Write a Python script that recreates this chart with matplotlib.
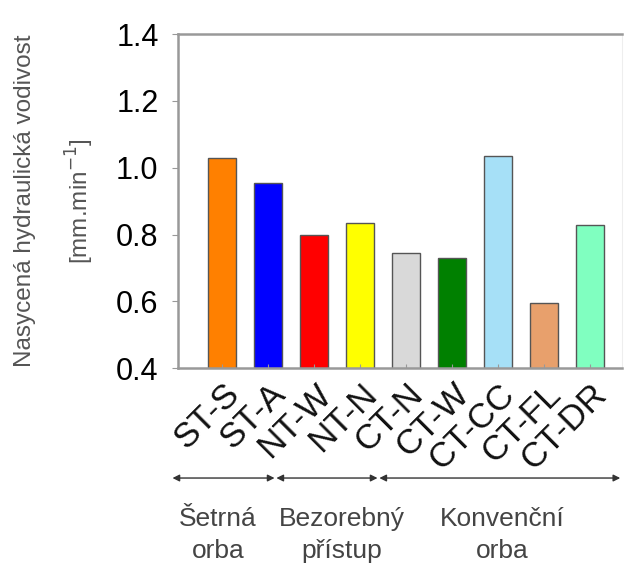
import matplotlib
matplotlib.use("Agg")
import matplotlib.pyplot as plt
from matplotlib.transforms import ScaledTranslation

plt.rcParams["font.family"] = ["Liberation Sans", "DejaVu Sans"]

labels = ["ST-S", "ST-A", "NT-W", "NT-N", "CT-N", "CT-W", "CT-CC", "CT-FL", "CT-DR"]
values = [1.03, 0.955, 0.80, 0.834, 0.745, 0.73, 1.035, 0.595, 0.83]
colors = ["#ff8000", "#0000ff", "#ff0000", "#ffff00", "#d9d9d9",
          "#008000", "#a6e0f7", "#e8a06c", "#80ffc0"]
groups = ["Šetrná\norba", "Bezorebný\npřístup", "Konvenční\norba"]
group_bounds = [(-1.08, 1.14), (1.18, 3.38), (3.42, 8.66)]
group_centers = [-0.09, 2.6, 6.1]

fig = plt.figure(figsize=(6.29, 5.69), dpi=100)
ax = fig.add_axes([0.283, 0.353, 0.706, 0.587])

x = list(range(len(labels)))
ax.bar(x, values, width=0.6, color=colors, edgecolor="#555555", linewidth=1.0)

ax.set_xlim(-0.96, 8.7)
ax.set_ylim(0.4, 1.4)
ax.set_yticks([0.4, 0.6, 0.8, 1.0, 1.2, 1.4])
ax.set_yticklabels(["0.4", "0.6", "0.8", "1.0", "1.2", "1.4"])
ax.set_xticks(x)
ax.set_xticklabels(labels, rotation=45, ha="right", rotation_mode="anchor", fontsize=25,
                   color="#111111")
ax.tick_params(axis="y", labelsize=22, length=4, color="#999999", pad=10)
ax.tick_params(axis="x", length=3, direction="in", color="#999999", pad=6)
shift = ScaledTranslation(0.0, -0.01, fig.dpi_scale_trans)
for lab in ax.get_xticklabels():
    lab.set_transform(lab.get_transform() + shift)

for side in ["left", "bottom", "top"]:
    ax.spines[side].set_color("#999999")
    ax.spines[side].set_linewidth(1.8)
ax.spines["right"].set_color("#eeeeee")

ax.set_ylabel("Nasycená hydraulická vodivost\n[mm.min$^{-1}$]", fontsize=17.5,
              color="#555555", linespacing=2.15)
ax.yaxis.set_label_coords(-0.184, 0.5)

for (a, b), c, g in zip(group_bounds, group_centers, groups):
    ax.annotate("", xy=(a, -0.329), xytext=(b, -0.329), xycoords=("data", "axes fraction"),
                textcoords=("data", "axes fraction"),
                arrowprops=dict(arrowstyle="<|-|>", color="#333333", lw=1.0,
                                mutation_scale=10, shrinkA=0, shrinkB=0),
                annotation_clip=False)
    ax.text(c, -0.5, g, transform=ax.get_xaxis_transform(), ha="center",
            va="center", fontsize=19, color="#444444", linespacing=1.45, clip_on=False)

fig.savefig("out.png", dpi=100)
